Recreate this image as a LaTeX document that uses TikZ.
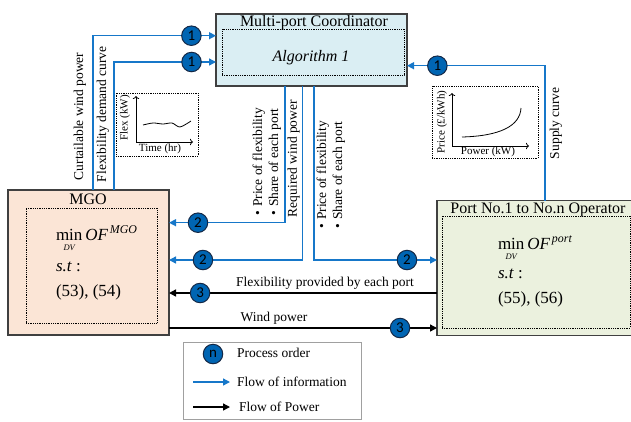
\documentclass[tikz,border=0pt]{standalone}
\usepackage{fontspec}
\usepackage{amsmath}
\setmainfont{Liberation Serif}
\newfontfamily\numfont{Carlito}
\usetikzlibrary{arrows.meta, calc, positioning}

\definecolor{infoblue}{RGB}{22,119,201}
\definecolor{circlefill}{RGB}{0,101,179}
\definecolor{circleedge}{RGB}{20,40,70}
\definecolor{boxgray}{RGB}{64,64,64}
\definecolor{legendgray}{RGB}{160,160,160}
\definecolor{coordfill}{RGB}{218,238,243}
\definecolor{mgofill}{RGB}{251,229,214}
\definecolor{portfill}{RGB}{235,241,222}

\newcommand{\dvsub}{\textit{\fontsize{8.5}{9}\selectfont DV}}

\begin{document}
\begin{tikzpicture}[x=1pt, y=-1pt, every node/.style={outer sep=0pt, inner sep=0pt}]
	\tikzstyle{box}=[
		draw=boxgray,
		line width=1.3pt,
		anchor=north west
	]
	\tikzstyle{innerbox}=[
		draw=black,
		densely dotted,
		line width=0.8pt,
		anchor=north west
	]
	\tikzstyle{boxtitle}=[font=\fontsize{16}{18}\selectfont, anchor=base]
	\tikzstyle{flowtext}=[font=\fontsize{13.5}{16}\selectfont]
	\tikzstyle{smalltext}=[font=\fontsize{11}{12}\selectfont]
	\tikzstyle{maths}=[font=\fontsize{17}{20}\selectfont, anchor=base west]
	\tikzstyle{infoflow}=[draw=infoblue, line width=1.4pt, -{Triangle[length=7pt, width=7pt]}]
	\tikzstyle{powerflow}=[draw=black, line width=1.4pt, -{Triangle[length=7pt, width=7pt]}]
	\tikzstyle{ordermark}=[
		circle,
		draw=circleedge,
		fill=circlefill,
		line width=1pt,
		minimum size=19.5pt,
		font=\numfont\fontsize{15}{15}\selectfont
	]
	\tikzstyle{plotaxis}=[line width=0.8pt, -{To[length=3pt]}]

	\useasboundingbox (0,0) rectangle (631,421);

	% boxes
	\node (coord) [box, fill=coordfill, minimum width=191, minimum height=72] at (216,14) {};
	\node (coordtitle) [boxtitle] at (314,26.6) {Multi-port Coordinator};
	\node (coordin) [innerbox, minimum width=182, minimum height=46] at (222,29) {};
	\node (algo) [boxtitle, font=\fontsize{16}{18}\selectfont\itshape] at (311,61.5) {Algorithm 1};

	\node (mgo) [box, fill=mgofill, minimum width=161, minimum height=145] at (8,190) {};
	\node (mgotitle) [boxtitle] at (88,204.5) {MGO};
	\node (mgoin) [innerbox, minimum width=131, minimum height=115] at (26,208) {};
	\node (mgomin) [maths] at (56,240) {$\mathop{\textrm{min}}\limits_{\dvsub}\textit{OF}^{\,\textit{MGO}}$};
	\node (mgost) [maths] at (56,271) {\textit{s.t} :};
	\node (mgoeq) [maths] at (56,296) {(53), (54)};

	\node (port) [box, fill=portfill, minimum width=200, minimum height=135] at (437,200.5) {};
	\node (porttitle) [boxtitle] at (538,213.5) {Port No.1 to No.n Operator};
	\node (portin) [innerbox, minimum width=188, minimum height=112] at (442,216) {};
	\node (portmin) [maths] at (498,249) {$\mathop{\textrm{min}}\limits_{\dvsub}\textit{OF}^{\,\textit{port}}$};
	\node (portst) [maths] at (498,278) {\textit{s.t} :};
	\node (porteq) [maths] at (498,303) {(55), (56)};

	% small plots
	\node (flexplot) [innerbox, minimum width=82, minimum height=63] at (116,93) {};
	\draw [plotaxis] (136,142) -- (136,96);
	\draw [plotaxis] (136,142) -- (193,142);
	\draw [line width=0.8pt] plot [smooth] coordinates {(143,125) (153,123) (163,124) (172,123) (180,127) (191,121)};
	\node (flexy) [smalltext, rotate=90] at (125,118) {Flex (kW)};
	\node (flext) [smalltext] at (160,149) {Time (hr)};

	\node (priceplot) [innerbox, minimum width=106, minimum height=72] at (432,86) {};
	\draw [plotaxis] (452,146) -- (452,93);
	\draw [plotaxis] (452,146) -- (529,146);
	\draw [line width=0.8pt] (462,137) .. controls (500,136) and (520,126) .. (521,108);
	\node (pricey) [smalltext, rotate=90] at (442,122) {Price (£/kWh)};
	\node (pricex) [smalltext] at (488,152) {Power (kW)};

	% flow labels
	\node (curtlabel) [flowtext, rotate=90, anchor=west] at (80,180) {Curtailable wind power};
	\node (flexlabel) [flowtext, rotate=90, anchor=west] at (103,182) {Flexibility demand curve};
	\node (supplylabel) [flowtext, rotate=90, anchor=west] at (556,159) {Supply curve};
	\node (mgolist) [flowtext, rotate=90, anchor=south west, align=left] at (281,215)
		{\textbullet\ Price of flexibility\\\textbullet\ Share of each port};
	\node (reqlabel) [flowtext, rotate=90, anchor=west] at (293.5,217) {Required wind power};
	\node (portlist) [flowtext, rotate=90, anchor=south west, align=left] at (345,228)
		{\textbullet\ Price of flexibility\\\textbullet\ Share of each port};
	\node (flexprov) [flowtext] at (325,283) {Flexibility provided by each port};
	\node (windlabel) [flowtext] at (274,318) {Wind power};

	% connectors
	\coordinate (curt) at (93,35.7);
	\coordinate (flexd) at (114,62);
	\coordinate (supply) at (545,65.7);
	\coordinate (downa) at (285,222.7);
	\coordinate (downb) at (302.7,260);
	\coordinate (downc) at (314,260);
	\coordinate (flexp) at (0,293);
	\coordinate (wind) at (0,328);

	\draw [infoflow] (mgo.north -| curt) |- (coord.west |- curt) node [ordermark, pos=0.9] (o1a) {1};
	\draw [infoflow] (mgo.north -| flexd) |- (coord.west |- flexd) node [ordermark, pos=0.88] (o1b) {1};
	\draw [infoflow] (port.north -| supply) |- (coord.east |- supply) node [ordermark, pos=0.89] (o1c) {1};
	\draw [infoflow] (coord.south -| downa) |- (mgo.east |- downa) node [ordermark, pos=0.875] (o2a) {2};
	\draw [infoflow] (coord.south -| downb) |- (mgo.east |- downb) node [ordermark, pos=0.873] (o2b) {2};
	\draw [infoflow] (coord.south -| downc) |- (port.west |- downc) node [ordermark, pos=0.878] (o2c) {2};
	\draw [powerflow] (port.west |- flexp) -- (mgo.east |- flexp) node [ordermark, pos=0.884] (o3a) {3};
	\draw [powerflow] (mgo.east |- wind) -- (port.west |- wind) node [ordermark, pos=0.862] (o3b) {3};

	% legend
	\node (legend) [draw=legendgray, line width=0.8pt, minimum width=178, minimum height=77, anchor=north west] at (183,342) {};
	\node (legn) [ordermark] at (213,354) {n};
	\node (legntext) [flowtext, anchor=west] at (237,353) {Process order};
	\coordinate (leginfo) at (193,382);
	\coordinate (leginfoend) at (230,382);
	\draw [infoflow] (leginfo) -- (leginfoend);
	\node (leginfotext) [flowtext, anchor=west] at (237,382) {Flow of information};
	\coordinate (legpow) at (193,407);
	\coordinate (legpowend) at (230,407);
	\draw [powerflow] (legpow) -- (legpowend);
	\node (legpowtext) [flowtext, anchor=west] at (239,407) {Flow of Power};
\end{tikzpicture}
\end{document}
